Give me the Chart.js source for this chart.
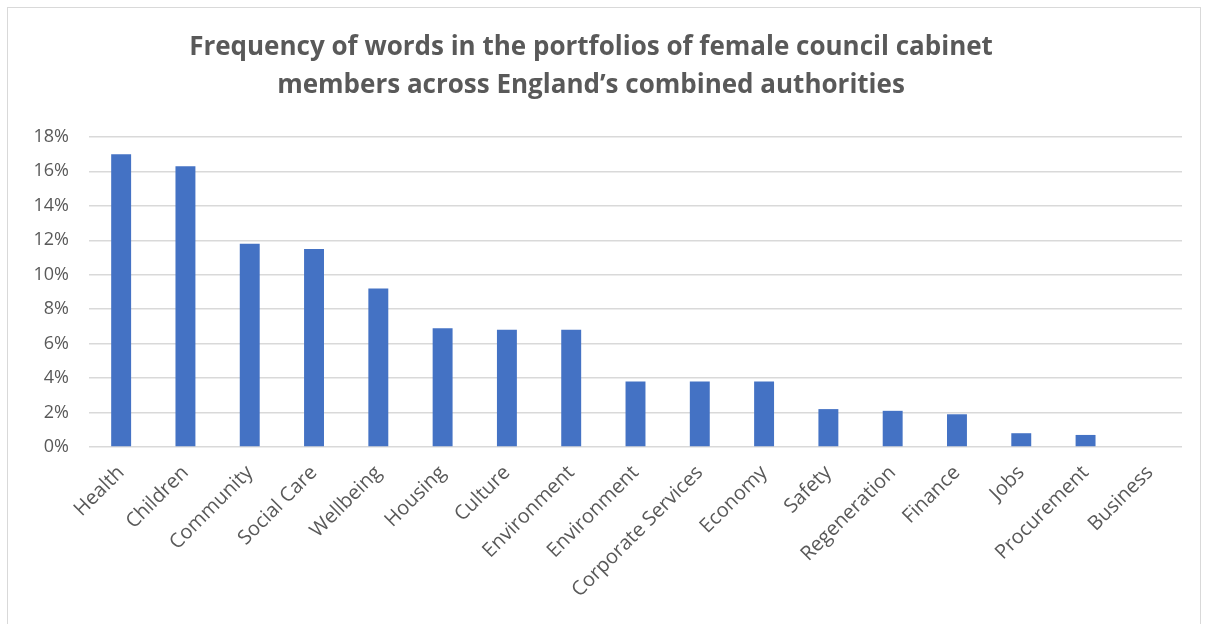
<!DOCTYPE html>
<html>
<head>
<meta charset="utf-8">
<script src="https://cdn.jsdelivr.net/npm/chart.js@4"></script>
<style>
  html, body { margin: 0; padding: 0; background: #fff; }
  #wrap { position: relative; width: 1205px; height: 624px; }
  #frame { position: absolute; left: 7px; top: 7px; width: 1194px; height: 640px; border: 1px solid #d9d9d9; box-sizing: border-box; }
  canvas { position: absolute; left: 0; top: 0; }
</style>
</head>
<body>
<div id="wrap">
  <div id="frame"></div>
  <canvas id="barChart" width="1205" height="624"></canvas>
</div>
<script>
const titleLines = [
  'Frequency of words in the portfolios of female council cabinet',
  'members across England\u2019s combined authorities'
];
const categories = [
  'Health', 'Children', 'Community', 'Social Care', 'Wellbeing', 'Housing',
  'Culture', 'Environment', 'Environment', 'Corporate Services', 'Economy',
  'Safety', 'Regeneration', 'Finance', 'Jobs', 'Procurement', 'Business'
];
const shares = [17.0, 16.3, 11.8, 11.5, 9.2, 6.9, 6.8, 6.8, 3.8, 3.8, 3.8, 2.2, 2.1, 1.9, 0.8, 0.7, 0];
const yTicks = [0, 2, 4, 6, 8, 10, 12, 14, 16, 18];

const fontFamily = '"Open Sans", "Liberation Sans", sans-serif';
const textGrey = '#595959';

const ctx = document.getElementById('barChart').getContext('2d');
const myChart = new Chart(ctx, {
  type: 'bar',
  data: {
    labels: categories,
    datasets: [{
      label: 'Frequency',
      data: shares,
      backgroundColor: '#4472C4',
      borderWidth: 0,
      categoryPercentage: 1,
      barPercentage: 0.31
    }]
  },
  options: {
    responsive: false,
    animation: false,
    layout: { padding: { left: 0, right: 23, top: 0, bottom: 0 } },
    plugins: {
      legend: { display: false },
      tooltip: { enabled: false },
      title: {
        display: true,
        text: titleLines,
        color: textGrey,
        font: { family: fontFamily, size: 26, weight: 'bold', lineHeight: 1.46 },
        padding: { top: 29, bottom: 32 }
      }
    },
    scales: {
      y: {
        min: 0,
        max: 18,
        afterBuildTicks: function(scale) {
          scale.ticks = yTicks.map(v => ({ value: v }));
        },
        afterFit: function(scale) { scale.width = 89; },
        ticks: {
          color: textGrey,
          font: { family: fontFamily, size: 18 },
          padding: 20,
          callback: v => v + '%'
        },
        grid: { color: '#d9d9d9', lineWidth: 1.5, drawTicks: false },
        border: { display: false }
      },
      x: {
        afterFit: function(scale) { scale.height = 177; },
        ticks: {
          color: textGrey,
          font: { family: fontFamily, size: 20 },
          minRotation: 45,
          maxRotation: 45,
          autoSkip: false,
          padding: 6
        },
        grid: { display: false },
        border: { display: false }
      }
    }
  }
});
</script>
</body>
</html>
